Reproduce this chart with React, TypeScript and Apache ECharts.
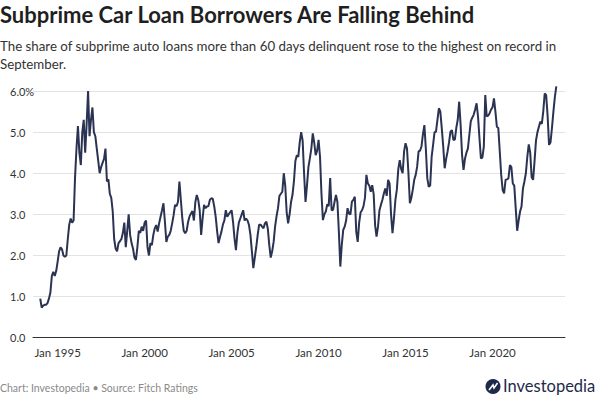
import React, { useEffect, useRef } from "react";
import * as echarts from "echarts";

// Monthly 60+ day delinquency rate (%), subprime auto ABS, Jan 1994 – Sep 2023
const rate1990s = [
  0.95, 0.73, 0.78, 0.8, 0.8, 0.84, 0.95, 1.1, 1.5, 1.6, 1.5, 1.62,
  1.85, 2.1, 2.2, 2.15, 2.0, 1.97, 2.0, 2.4, 2.75, 2.9, 2.8, 2.85,
  3.9, 4.6, 5.15, 4.5, 4.2, 5.0, 5.3, 4.5, 5.2, 6.0, 4.9, 5.3,
  5.6, 5.0, 4.9, 4.6, 4.3, 4.0, 4.15, 4.25, 4.35, 4.6, 3.8, 3.85,
  3.5, 3.4, 3.07, 2.4, 2.17, 2.1, 2.3, 2.35, 2.4, 2.55, 2.8, 2.2,
  2.6, 3.0, 2.5, 2.3, 2.17, 1.95, 1.89, 2.2, 2.6, 2.55, 2.7, 2.6,
];
const rate2000s = [
  2.8, 2.85, 2.2, 2.0, 2.3, 2.25, 2.5, 2.66, 2.74, 2.58, 2.78, 2.94,
  3.1, 3.27, 2.82, 2.33, 2.46, 2.5, 2.6, 2.78, 2.98, 3.23, 3.2, 3.3,
  3.8, 3.35, 2.9, 2.6, 2.54, 2.6, 2.82, 2.95, 3.02, 3.08, 2.85, 3.3,
  3.47, 3.35, 3.1, 2.5, 2.9, 3.23, 3.15, 3.19, 3.2, 3.35, 3.39, 3.38,
  3.2, 2.95, 2.6, 2.3, 2.45, 2.58, 2.75, 2.85, 3.1, 2.94, 3.0, 3.05,
  3.1, 2.82, 2.42, 2.13, 2.55, 2.8, 2.9, 3.0, 3.1, 2.85, 2.9, 2.85,
  2.74, 2.5, 2.1, 1.69, 1.95, 2.2, 2.5, 2.75, 2.75, 2.7, 2.66, 2.78,
  2.82, 2.65, 2.25, 1.95, 2.1, 2.33, 2.7, 2.95, 3.15, 3.45, 3.5, 3.55,
  4.0, 3.7, 3.05, 2.78, 3.0, 3.3, 3.47, 3.8, 4.3, 4.44, 4.4, 4.75,
  5.0, 4.8, 4.0, 3.3, 3.7, 4.15, 4.36, 4.6, 4.97, 4.75, 4.44, 4.55,
];
const rate2010s = [
  4.81, 4.4, 3.5, 2.86, 3.0, 3.07, 3.25, 3.2, 3.88, 3.1, 3.11, 3.3,
  3.47, 3.3, 2.58, 1.73, 2.25, 2.62, 2.7, 2.85, 3.15, 3.02, 3.0, 3.31,
  3.35, 3.43, 2.58, 2.33, 2.8, 3.05, 3.1, 3.2, 3.4, 3.96, 3.75, 3.7,
  3.55, 3.71, 3.5, 2.74, 2.46, 2.7, 3.1, 3.23, 3.35, 3.5, 3.63, 3.45,
  3.84, 3.75, 3.0, 2.54, 2.9, 3.35, 3.6, 4.1, 4.32, 4.1, 4.0, 4.53,
  4.73, 4.6, 4.0, 3.27, 3.4, 3.6, 3.84, 3.96, 4.16, 4.53, 4.55, 4.65,
  4.95, 5.17, 4.6, 3.88, 3.67, 3.7, 4.4, 4.69, 5.0, 5.01, 5.3, 5.58,
  5.5, 5.09, 4.65, 4.12, 4.35, 4.53, 4.75, 5.01, 5.05, 4.81, 4.82, 5.1,
  5.3, 5.74, 5.17, 4.44, 4.08, 4.35, 4.5, 4.6, 4.93, 5.26, 5.35, 5.42,
  5.55, 5.7, 5.38, 4.85, 4.36, 4.38, 4.65, 5.9, 5.38, 5.4, 5.46, 5.55,
];
const rate2020s = [
  5.6, 5.82, 5.5, 5.13, 5.1, 4.53, 3.96, 3.59, 3.51, 3.84, 3.85, 3.88,
  4.2, 4.15, 3.75, 3.7, 3.15, 2.6, 2.85, 3.07, 3.19, 3.63, 3.8, 4.0,
  4.4, 4.7, 4.5, 3.9, 3.84, 4.3, 4.8, 5.0, 5.13, 5.26, 5.2, 5.5,
  5.94, 5.9, 5.4, 4.69, 4.75, 5.1, 5.5, 5.85, 6.11,
];

const monthNames = ["Jan", "Feb", "Mar", "Apr", "May", "Jun", "Jul", "Aug", "Sep", "Oct", "Nov", "Dec"];
const axisStartYear = 1993;
const axisStartMonth = 7; // Aug 1993 (axis padding before data)
const padBefore = 5;
const padAfter = 6;
const yTicks = ["0.0", "1.0", "2.0", "3.0", "4.0", "5.0", "6.0%"];
const lastLabel = "6.1%";

const FONT = "Lato, 'Source Sans Pro', 'Noto Sans', sans-serif";

export default function App() {
  const ref = useRef<HTMLDivElement>(null);

  useEffect(() => {
    document.body.style.margin = "0";
    if (!ref.current) return;
    const chart = echarts.init(ref.current, null, { renderer: "svg" });

    const values = [...rate1990s, ...rate2000s, ...rate2010s, ...rate2020s];
    const total = padBefore + values.length + padAfter;
    const categories: string[] = [];
    for (let i = 0; i < total; i++) {
      const mAbs = axisStartMonth + i;
      const yr = axisStartYear + Math.floor(mAbs / 12);
      categories.push(`${monthNames[mAbs % 12]} ${yr}`);
    }
    const seriesData: any[] = [];
    for (let i = 0; i < padBefore; i++) seriesData.push(null);
    values.forEach((v, i) => {
      if (i === values.length - 1) {
        seriesData.push({
          value: v,
          label: {
            show: true,
            formatter: lastLabel,
            position: "right",
            distance: 9,
            offset: [0, 4],
            color: "#333",
            fontSize: 11,
            fontFamily: FONT,
          },
        });
      } else seriesData.push(v);
    });
    for (let i = 0; i < padAfter; i++) seriesData.push(null);

    chart.setOption({
      animation: false,
      textStyle: { fontFamily: FONT },
      grid: { left: 33, right: 35, top: 91, bottom: 60.3, containLabel: false },
      xAxis: {
        type: "category",
        data: categories,
        boundaryGap: false,
        axisLine: { show: true, lineStyle: { color: "#333", width: 1 } },
        axisTick: { show: false },
        axisLabel: {
          interval: (idx: number, val: string) => {
            const parts = val.split(" ");
            return parts[0] === "Jan" && Number(parts[1]) % 5 === 0;
          },
          color: "#333",
          fontSize: 11.5,
          margin: 9,
          fontFamily: FONT,
        },
        splitLine: { show: false },
      },
      yAxis: {
        type: "value",
        min: 0,
        max: 6,
        interval: 1,
        axisLine: { show: false },
        axisTick: { show: false },
        axisLabel: {
          formatter: (v: number) => yTicks[Math.round(v)],
          align: "left",
          margin: 23,
          color: "#333",
          fontSize: 11,
          fontFamily: FONT,
        },
        splitLine: { lineStyle: { color: "#e3e3e3", width: 1 } },
      },
      series: [
        {
          type: "line",
          data: seriesData,
          showSymbol: false,
          symbol: "none",
          clip: false,
          connectNulls: false,
          lineStyle: { color: "#2b3352", width: 2 },
          itemStyle: { color: "#2b3352" },
        },
      ],
      graphic: [
        {
          type: "text",
          left: 0,
          top: 3,
          style: {
            text: "Subprime Car Loan Borrowers Are Falling Behind",
            font: `bold 22px ${FONT}`,
            fill: "#1f1f1f",
          },
        },
        {
          type: "text",
          left: 0,
          top: 37,
          style: {
            text:
              "The share of subprime auto loans more than 60 days delinquent rose to the highest on record in\nSeptember.",
            font: `13.3px ${FONT}`,
            lineHeight: 18,
            fill: "#333",
          },
        },
        {
          type: "text",
          left: 0,
          top: 382,
          style: {
            text: "Chart: Investopedia • Source: Fitch Ratings",
            font: `10.5px ${FONT}`,
            fill: "#8a8a8a",
          },
        },
        {
          type: "circle",
          shape: { cx: 493, cy: 386.5, r: 7.5 },
          style: { fill: "#1e2a4a" },
        },
        {
          type: "polyline",
          shape: { points: [[489, 390], [493, 385], [494, 388], [497.5, 383]] },
          style: { stroke: "#ffffff", lineWidth: 1.6, fill: "none" },
        },
        {
          type: "text",
          left: 503,
          top: 377,
          style: {
            text: "Investopedia",
            font: `16.5px ${FONT}`,
            fill: "#1e2a4a",
          },
        },
      ],
    });

    return () => chart.dispose();
  }, []);

  return <div ref={ref} style={{ width: 600, height: 398 }} />;
}
